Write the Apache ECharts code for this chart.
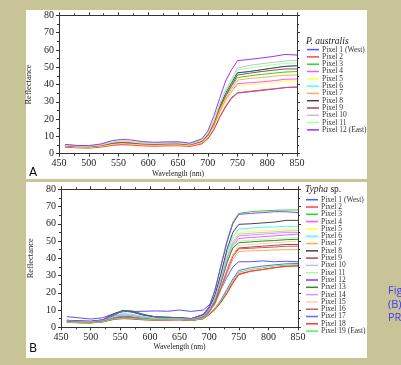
<!DOCTYPE html>
<html><head><meta charset="utf-8">
<script src="https://cdn.jsdelivr.net/npm/echarts@6/dist/echarts.min.js"></script>
<style>html,body{margin:0;padding:0;background:#c9c497;}#c{width:401px;height:365px;}</style>
</head><body><div id="c"></div>
<script>
const wavelengths = [460,480,500,520,540,555,570,590,610,630,650,670,690,700,710,720,730,740,750,770,790,810,830,850];
const xTicks = [450,500,550,600,650,700,750,800,850];
const yTicks = [0,10,20,30,40,50,60,70,80];

const namesA = ['Pixel 1 (West)','Pixel 2','Pixel 3','Pixel 4','Pixel 5','Pixel 6','Pixel 7','Pixel 8','Pixel 9','Pixel 10','Pixel 11','Pixel 12 (East)'];
const colorsA = ['#5555ff','#ff4444','#22dd22','#ff55ff','#ffff44','#44ffff','#ffaa55','#444444','#b04444','#c4c4c4','#aaffaa','#9933ff'];
const a1  = [4.2,3.8,3.6,4.2,5.2,5.6,5.4,5,4.8,5,5.1,4.6,6.2,9,14,21,27,32,35,35.8,36.5,37.3,38.2,38.5];
const a2  = [3.8,3.4,3.2,3.8,4.8,5.2,5,4.5,4.3,4.5,4.6,4.2,5.6,8.5,13.5,21,27.5,32.5,35.2,36,36.8,37.5,38.2,38.6];
const a3  = [4.6,4.1,4,4.7,6,6.5,6.2,5.6,5.4,5.6,5.7,5.1,7,10.5,17,26,33,39,44,45,45.8,46.5,47.2,47.5];
const a4  = [4.4,3.9,3.8,4.4,5.6,6,5.8,5.2,5,5.2,5.3,4.8,6.6,9.8,15.5,23.5,30.5,36,40.5,41,41.5,42.2,43,43.2];
const a5  = [4.3,3.8,3.7,4.3,5.4,5.9,5.6,5.1,4.9,5.1,5.2,4.7,6.4,9.5,15,23,30,35.5,39.5,40,40.5,41.2,41.8,42.2];
const a6  = [4.7,4.2,4.1,4.8,6.2,6.7,6.4,5.8,5.6,5.8,5.9,5.3,7.3,11,17.5,27,34.5,40.5,46.5,47.5,48.5,49.5,50.5,51];
const a7  = [4.5,4,3.9,4.6,5.8,6.2,6,5.4,5.2,5.4,5.5,4.9,6.8,10.2,16,24.5,31.5,37.5,42.5,43.5,44,44.8,45.3,45.5];
const a8  = [4.8,4.3,4.2,4.9,6.3,6.8,6.5,5.9,5.7,5.9,6,5.4,7.4,11,18,27.5,35,41,46.8,47.5,48.5,49.5,50.5,50.8];
const a9  = [4.6,4.1,4,4.7,6,6.5,6.2,5.7,5.5,5.7,5.8,5.2,7.1,10.7,17.2,26.5,33.5,39.5,45.5,46.5,47.5,48.2,49,49];
const a10 = [5,4.5,4.4,5.2,6.8,7.3,7,6.3,6.1,6.3,6.4,5.7,7.9,11.8,19,29,37,43,49.5,51,52,52.8,53.5,54];
const a11 = [4.9,4.4,4.3,5,6.6,7.1,6.8,6.1,5.9,6.1,6.2,5.5,7.6,11.5,18.5,28.5,36,42,48.5,49.5,50.5,51.5,52.2,52.5];
const a12 = [5.4,4.8,4.7,5.6,7.6,8.2,8,7,6.6,6.8,6.9,6.1,8.6,13,21.5,32,42,48.5,53.8,54.5,55.3,56.2,57.4,57];
const valuesA = [a1,a2,a3,a4,a5,a6,a7,a8,a9,a10,a11,a12];

const namesB = ['Pixel 1 (West)','Pixel 2','Pixel 3','Pixel 4','Pixel 5','Pixel 6','Pixel 7','Pixel 8','Pixel 9','Pixel 10','Pixel 11','Pixel 12','Pixel 13','Pixel 14','Pixel 15','Pixel 16','Pixel 17','Pixel 18','Pixel 19 (East)'];
const colorsB = ['#5555ff','#ff4444','#22dd22','#ff55ff','#ffff44','#44ffff','#ffaa55','#444444','#b04444','#c4c4c4','#aaffaa','#9933ff','#338833','#cc99ff','#ffd0a0','#c06060','#6666ff','#ff3333','#55ee55'];
const b1  = [6.2,5.5,4.8,5.5,8,9,9.2,9.3,9.5,9.3,10,9.2,10,13,16,22,29,35,38,38,38.5,38,38.3,38];
const b2  = [3,2.7,2.6,3.2,4.8,5.3,5,4.5,4.2,4.3,4.4,4,5,7.5,10.5,15,20,26,31,32.5,33.5,34.5,35.3,35.5];
const b3  = [4,3.6,3.4,4.2,7.5,9.5,8.8,7,6,5.8,5.5,5,7.5,12,22,36,50,61,66,67,67.5,67.8,68,68];
const b4  = [3.5,3.2,3,3.6,6,6.8,6.4,5.5,5,5,5,4.5,6.2,9.5,15.5,25.5,37,47,51.5,52,52.5,53,53.5,54];
const b5  = [3.8,3.4,3.2,3.9,6.8,7.8,7.2,6.1,5.4,5.3,5.2,4.7,6.8,10.5,17,29,42,51,55,55.5,56,56.3,56.8,57];
const b6  = [3.9,3.5,3.3,4,7,8,7.5,6.3,5.5,5.4,5.3,4.8,7,11,18,30,43,52.5,57,57.5,58,58.2,58.5,58.5];
const b7  = [3.3,3,2.9,3.4,5.5,6.2,5.8,5,4.6,4.6,4.7,4.3,5.8,8.8,13.5,21.5,31,39.5,44,44.3,44.5,44.8,45,45];
const b8  = [4.1,3.7,3.5,4.3,8,9.8,9,7.2,6,5.8,5.6,5.1,7.3,11,19,31,45,55,59.7,60,60.5,61,62,62];
const b9  = [3.4,3.1,3,3.5,5.8,6.5,6.1,5.2,4.8,4.8,4.9,4.4,6,9,14.5,23,33,42,46,46.5,47,47.5,48,48];
const b10 = [3.7,3.3,3.1,3.8,6.5,7.5,7,5.9,5.3,5.2,5.1,4.6,6.6,10.2,16.5,28,40.5,49.5,54,54.5,55,55.3,55.8,56];
const b11 = [3.6,3.2,3.1,3.7,6.2,7,6.6,5.7,5.1,5.1,5,4.5,6.4,9.8,16,26.5,38,47,50,50.5,51,51.3,51.8,52];
const b12 = [4,3.6,3.4,4.2,7.8,9.5,8.8,7,6,5.8,5.5,5,7.4,11.8,21.5,35.5,49,60,65.5,66,66.5,67,67,66.5];
const b13 = [3.6,3.2,3.1,3.7,7,9.8,9.5,7.5,6,5.5,5.2,4.6,6.4,9.8,15.5,26,37.5,46,49,49.5,50,50.3,50.8,51];
const b14 = [3.7,3.3,3.2,3.8,6.4,7.2,6.8,5.8,5.2,5.1,5.1,4.6,6.5,10,16.5,27.5,39.5,48.5,53,53.5,54,54.5,55,55];
const b15 = [3.2,2.9,2.8,3.3,5.2,5.9,5.5,4.8,4.4,4.5,4.5,4.1,5.6,8.6,13.5,22,32.5,42,47.5,48,48.5,49,49.5,50];
const b16 = [3.3,3,2.9,3.4,5.4,6,5.7,4.9,4.5,4.6,4.6,4.2,5.8,8.8,14,22.5,32,41,45.5,45.8,46.2,46.5,47,47];
const b17 = [3.1,2.8,2.7,3.3,5.2,5.8,5.4,4.7,4.3,4.4,4.5,4.1,5.2,8,11,16,22,28,33,34.5,35.5,36.2,36.8,37];
const b18 = [2.9,2.6,2.5,3.1,4.6,5,4.8,4.3,4.1,4.2,4.3,3.9,4.9,7.3,10.3,14.5,19.5,25.5,30.5,32.5,33.5,34.5,35.5,35.8];
const b19 = [3,2.7,2.6,3.2,4.9,5.4,5.1,4.6,4.3,4.4,4.5,4.1,5.1,7.8,11,15.5,21,27,32,33.5,34.5,35.5,36,36.3];
const valuesB = [b1,b2,b3,b4,b5,b6,b7,b8,b9,b10,b11,b12,b13,b14,b15,b16,b17,b18,b19];

const SERIF = '"Liberation Serif","DejaVu Serif",serif';
const axisCol = '#333';

function xAx(grid, pos, labels, name) {
  return {
    type: 'value', gridIndex: grid, position: pos, min: 450, max: 850, interval: 50,
    axisLine: {show: true, onZero: false, lineStyle: {color: axisCol, width: 1}},
    axisTick: {show: true, length: 3, lineStyle: {color: axisCol}},
    minorTick: {show: true, splitNumber: 2, length: 2, lineStyle: {color: axisCol}},
    splitLine: {show: false},
    axisLabel: {show: labels, margin: 5, fontFamily: SERIF, fontSize: 10, color: '#222',
      formatter: v => xTicks.includes(v) ? String(v) : ''},
    name: name, nameLocation: 'middle', nameGap: 15,
    nameTextStyle: {fontFamily: SERIF, fontSize: 7.5, color: '#222'}
  };
}
function yAx(grid, pos, labels, name) {
  return {
    type: 'value', gridIndex: grid, position: pos, min: 0, max: 80, interval: 10,
    axisLine: {show: true, onZero: false, lineStyle: {color: axisCol, width: 1}},
    axisTick: {show: true, length: 3, lineStyle: {color: axisCol}},
    minorTick: {show: true, splitNumber: 2, length: 2, lineStyle: {color: axisCol}},
    splitLine: {show: false},
    axisLabel: {show: labels, margin: 5, fontFamily: SERIF, fontSize: 10, color: '#222',
      formatter: v => yTicks.includes(v) ? String(v) : ''},
    name: name, nameLocation: 'middle', nameGap: 19, nameRotate: 90,
    nameTextStyle: {fontFamily: SERIF, fontSize: 8.5, color: '#222'}
  };
}

const series = [];
valuesA.forEach((vals, i) => series.push({
  name: namesA[i], type: 'line', xAxisIndex: 0, yAxisIndex: 0, symbol: 'none', animation: false,
  color: colorsA[i], lineStyle: {width: 1, color: colorsA[i]},
  data: wavelengths.map((w, k) => [w, vals[k]])
}));
valuesB.forEach((vals, i) => series.push({
  name: namesB[i], type: 'line', xAxisIndex: 2, yAxisIndex: 2, symbol: 'none', animation: false,
  color: colorsB[i], lineStyle: {width: 1, color: colorsB[i]},
  data: wavelengths.map((w, k) => [w, vals[k]])
}));

const legendCommon = {
  orient: 'vertical', icon: 'rect', itemWidth: 12, itemHeight: 1.5, itemGap: -0.7, padding: 0,
  selectedMode: false,
  textStyle: {fontFamily: SERIF, fontSize: 7.5, color: '#333', padding: [0,0,0,-2]}
};

const blue = '#3b3bff';
const chart = echarts.init(document.getElementById('c'), null, {renderer: 'canvas'});
chart.setOption({
  animation: false,
  backgroundColor: '#c9c497',
  graphic: [
    {type: 'rect', z: -100, shape: {x: 26, y: 10, width: 341, height: 169}, style: {fill: '#ffffff'}},
    {type: 'rect', z: -100, shape: {x: 26, y: 182, width: 341, height: 176}, style: {fill: '#ffffff'}},
    {type: 'text', left: 29, top: 167, style: {text: 'A', fontFamily: '"DejaVu Sans",sans-serif', fontSize: 12, fill: '#111'}},
    {type: 'text', left: 29, top: 343, style: {text: 'B', fontFamily: '"DejaVu Sans",sans-serif', fontSize: 12, fill: '#111'}},
    {type: 'text', x: 388, y: 285, style: {text: 'Fig', fontFamily: '"Open Sans",sans-serif', fontSize: 11, fill: blue}},
    {type: 'text', x: 388, y: 299, style: {text: '(B)', fontFamily: '"Open Sans",sans-serif', fontSize: 11, fill: blue}},
    {type: 'text', x: 388, y: 312, style: {text: 'PR', fontFamily: '"Open Sans",sans-serif', fontSize: 11, fill: blue}}
  ],
  title: [
    {left: 306, top: 36, padding: 0, text: 'P. australis',
      textStyle: {fontFamily: SERIF, fontSize: 9.5, fontStyle: 'italic', fontWeight: 'normal', color: '#222'}},
    {left: 305, top: 184, padding: 0, text: '{i|Typha} sp.',
      textStyle: {fontFamily: SERIF, fontSize: 9.5, fontWeight: 'normal', color: '#222',
        rich: {i: {fontFamily: SERIF, fontSize: 9.5, fontStyle: 'italic', color: '#222'}}}}
  ],
  grid: [
    {left: 59, top: 15.3, width: 238, height: 138.4, show: false},
    {left: 61, top: 189.3, width: 237, height: 138, show: false}
  ],
  xAxis: [xAx(0,'bottom',true,'Wavelength (nm)'), xAx(0,'top',false,''), xAx(1,'bottom',true,'Wavelength (nm)'), xAx(1,'top',false,'')],
  yAxis: [yAx(0,'left',true,'Reflectance'), yAx(0,'right',false,''), yAx(1,'left',true,'Reflectance'), yAx(1,'right',false,'')],
  legend: [
    Object.assign({}, legendCommon, {left: 307, top: 45.6, data: namesA}),
    Object.assign({}, legendCommon, {left: 306, top: 195.7, data: namesB})
  ],
  series: series
});
</script></body></html>
